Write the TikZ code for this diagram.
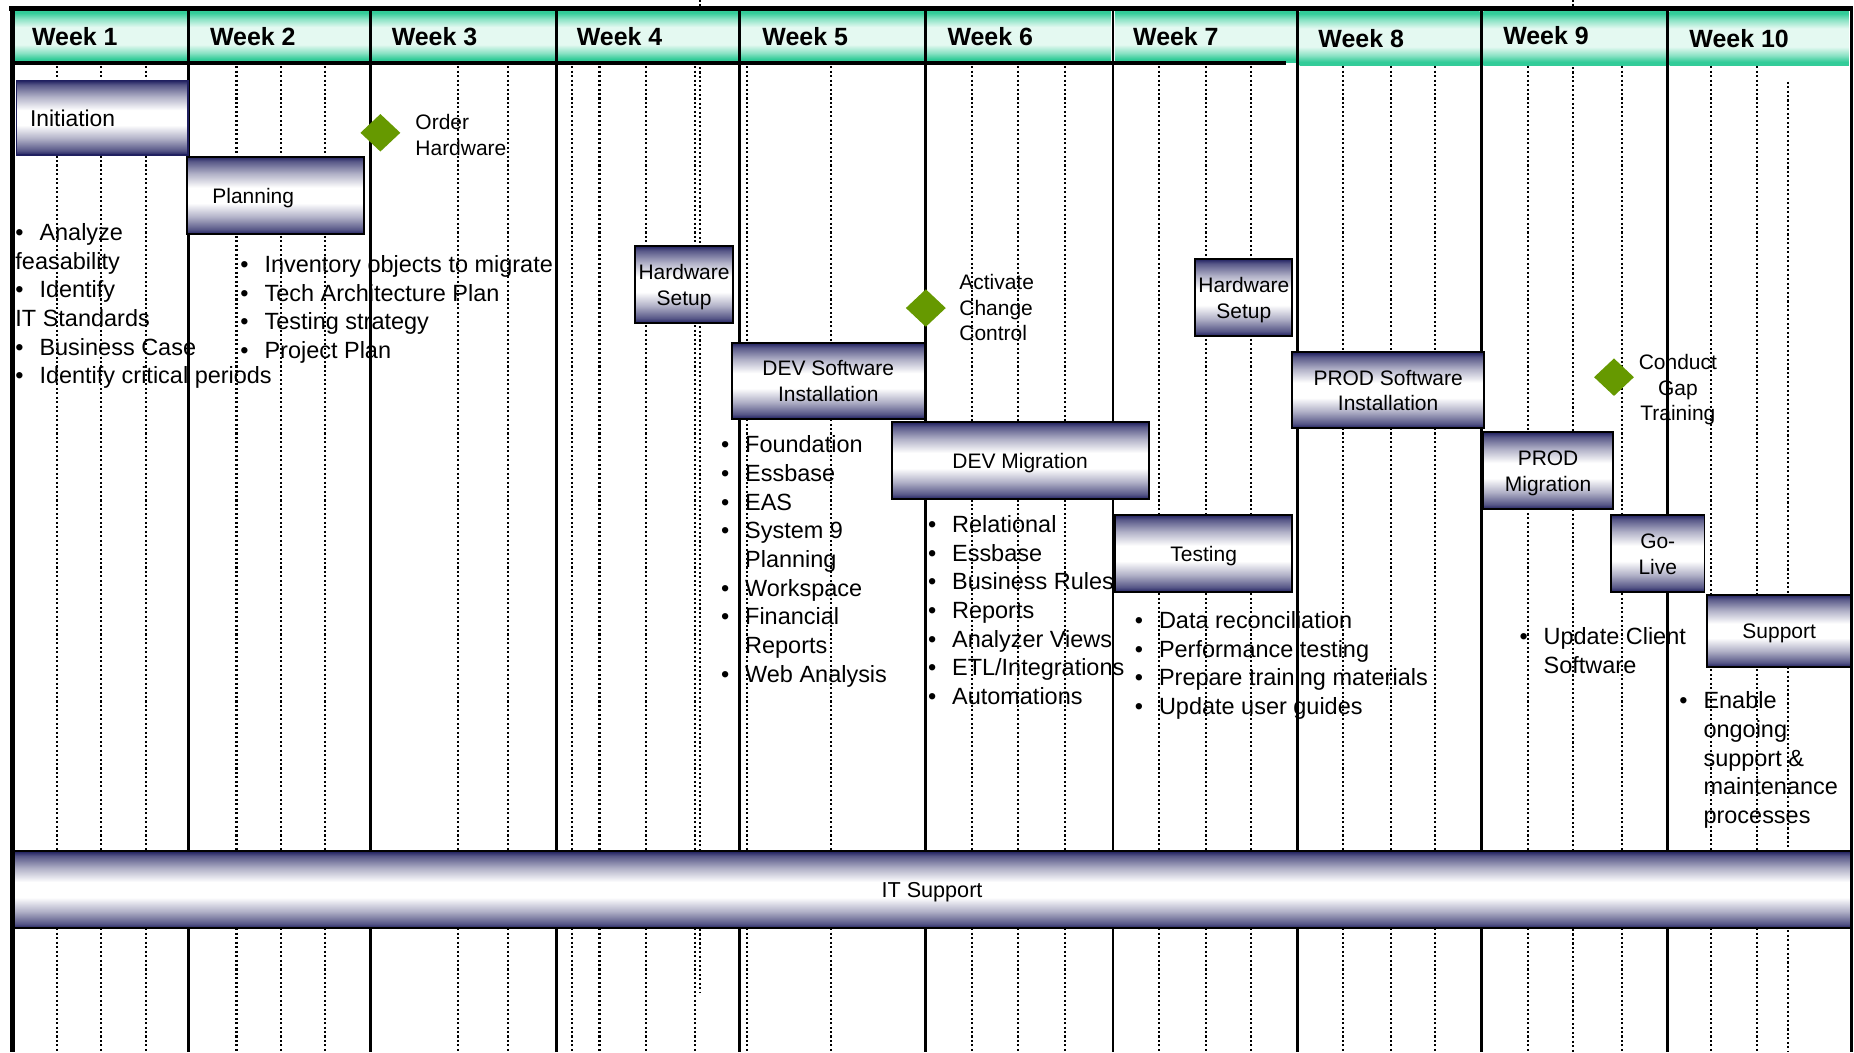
\documentclass[tikz,border=0pt]{standalone}
\usepackage{fontspec}
\setmainfont{Liberation Sans}
\usetikzlibrary{shapes.geometric}
\definecolor{barnavy}{RGB}{32,32,96}
\definecolor{hdrteal}{RGB}{51,204,153}
\definecolor{hdrlight}{RGB}{228,249,241}
\definecolor{msgreen}{RGB}{102,153,0}
\colorlet{navyA}{barnavy!75!white}
\colorlet{navyB}{barnavy!35!white}
\colorlet{tealmid}{hdrteal!50!hdrlight}
\pgfdeclareverticalshading{barshade}{100bp}{color(0bp)=(barnavy); color(25bp)=(barnavy); color(28bp)=(navyA); color(36bp)=(navyB); color(45bp)=(white); color(55bp)=(white); color(64bp)=(navyB); color(72bp)=(navyA); color(75bp)=(barnavy); color(100bp)=(barnavy)}
\pgfdeclareverticalshading{hdrshade}{100bp}{color(0bp)=(hdrteal); color(25bp)=(hdrteal); color(28bp)=(hdrteal); color(34bp)=(tealmid); color(42bp)=(hdrlight); color(59bp)=(hdrlight); color(67bp)=(tealmid); color(73bp)=(hdrteal); color(75bp)=(hdrteal); color(100bp)=(hdrteal)}
\newcommand{\gbul}{\makebox[11.6pt][l]{•}}
\newcommand{\gind}{\hspace*{11.6pt}}
\newcommand{\gtop}{\rule{0pt}{0.9em}}
\newcommand{\gh}{\rule{0pt}{1.0em}}
\newcommand{\gd}{\rule[-0.25em]{0pt}{0.25em}}
\newcommand{\glist}{\fontsize{11.3pt}{13.8pt}\selectfont}
\newcommand{\gbox}{\fontsize{10.1pt}{12.3pt}\selectfont}
\newcommand{\ghead}{\fontsize{12pt}{14pt}\selectfont\bfseries}
\tikzset{
  dotl/.style={line width=1pt, dash pattern=on 1pt off 1.15pt},
  divl/.style={line width=1.3pt},
  hdrcell/.style={shade, shading=hdrshade},
  weeklbl/.style={anchor=base west, inner sep=0pt, font=\ghead},
  gbar/.style={draw=black, line width=0.9pt, shade, shading=barshade, inner sep=0pt, align=center, font=\gbox},
  listtxt/.style={anchor=north west, inner sep=0pt, align=left, font=\glist},
  mslbl/.style={anchor=north west, inner sep=0pt, align=left, font=\gbox},
  milestone/.style={diamond, fill=msgreen, inner sep=0pt, minimum width=0.68cm, minimum height=0.64cm},
}
\begin{document}
\begin{tikzpicture}[x=0.02cm,y=-0.02cm]
\useasboundingbox (0,0) rectangle (1568,890);
\fill[white] (0,0) rectangle (1568,890);
% dotted day lines
\foreach \x in {48.5,85.6,123.7,200,238,275,387,430,484,507,546,587.5,632,703,822,861,901,980,1020,1058,1136,1176.5,1213.5,1292,1372,1447,1486}
  \draw[dotl] (\x,56) -- (\x,890);
\draw[dotl] (592,0) -- (592,839);
\draw[dotl] (1330,0) -- (1330,890);
\draw[dotl] (1512,69) -- (1512,890);
% header cells
\foreach \a/\b in {10/159.5,159.5/313.3,313.3/470.5,470.5/625.5,625.5/782.6,782.6/941.3,941.3/1097.5}
  \shade[hdrcell] (\a+1.6,9) rectangle (\b-1.6,52.5);
\foreach \a/\b in {1097.5/1253,1253/1410.4,1410.4/1565.3}
  \shade[hdrcell] (\a+1.6,9.5) rectangle (\b-1.6,55);
\node[weeklbl] (wk1) at (26.8,38.3) {Week 1};
\node[weeklbl] (wk2) at (177.3,38.3) {Week 2};
\node[weeklbl] (wk3) at (331,38.3) {Week 3};
\node[weeklbl] (wk4) at (487.5,38.3) {Week 4};
\node[weeklbl] (wk5) at (644.5,38.3) {Week 5};
\node[weeklbl] (wk6) at (801,38.3) {Week 6};
\node[weeklbl] (wk7) at (958,38.3) {Week 7};
\node[weeklbl] (wk8) at (1114.7,40.1) {Week 8};
\node[weeklbl] (wk9) at (1271,37.6) {Week 9};
\node[weeklbl] (wk10) at (1428.5,40.1) {Week 10};
% week dividers
\foreach \x in {159.5,313.3,470.5,625.5,782.6,941.3,1097.5,1253,1410.4}
  \draw[divl] (\x,7) -- (\x,890);
\draw[line width=1.7pt] (10,53.5) -- (1088,53.5);
% task notes
\node[listtxt] (l1) at (12.7,185.2) {\gtop\gbul Analyze\\feasability\\\gbul Identify\\IT Standards\\\gbul Business Case\\\gbul Identify critical periods};
\node[listtxt] (l2) at (203,212.2) {\gtop\gbul Inventory objects to migrate\\\gbul Tech Architecture Plan\\\gbul Testing strategy\\\gbul Project Plan};
\node[listtxt] (l5) at (609.5,364.7) {\gtop\gbul Foundation\\\gbul Essbase\\\gbul EAS\\\gbul System 9\\\gind Planning\\\gbul Workspace\\\gbul Financial\\\gind Reports\\\gbul Web Analysis};
\node[listtxt] (l6) at (784.5,432.2) {\gtop\gbul Relational\\\gbul Essbase\\\gbul Business Rules\\\gbul Reports\\\gbul Analyzer Views\\\gbul ETL/Integrations\\\gbul Automations};
\node[listtxt] (l7) at (959.5,513.4) {\gtop\gbul Data reconciliation\\\gbul Performance testing\\\gbul Prepare training materials\\\gbul Update user guides};
\node[listtxt] (l9) at (1284.8,526.8) {\gtop\gbul Update Client\\\gind Software};
\node[listtxt] (l10) at (1420,581.2) {\gtop\gbul Enable\\\gind ongoing\\\gind support \&\\\gind maintenance\\\gind processes};
% milestone labels
\node[mslbl] (m1t) at (351,93.6) {\gtop Order\\Hardware};
\node[mslbl] (m2t) at (811,228.8) {\gtop Activate\\Change\\Control};
\node[mslbl, anchor=north, align=center] (m3t) at (1419,296.3) {\gtop Conduct\\Gap\\Training};
% bars
\node[gbar, draw=barnavy, line width=0.6pt, minimum width=2.90cm, minimum height=1.26cm, font=\fontsize{11pt}{13pt}\selectfont] (init) at (86.5,99.5) {\makebox[2.444cm][l]{\gh\gd Initiation}};
\node[gbar, minimum width=2.99cm, minimum height=1.31cm] (plan) at (233.25,165.25) {\makebox[2.146cm][l]{\gh\gd Planning}};
\node[gbar, minimum width=1.66cm, minimum height=1.30cm] (hw1) at (578.5,240.5) {\gh Hardware\\Setup\gd};
\node[gbar, minimum width=3.26cm, minimum height=1.28cm] (devsw) at (700.5,322) {\gh DEV Software\\Installation\gd};
\node[gbar, minimum width=4.35cm, minimum height=1.30cm] (devmig) at (862.75,389.5) {\gh\gd DEV Migration};
\node[gbar, minimum width=1.64cm, minimum height=1.30cm] (hw2) at (1052,251.5) {\gh Hardware\\Setup\gd};
\node[gbar, minimum width=3.00cm, minimum height=1.30cm] (test) at (1018,468) {\gh\gd Testing};
\node[gbar, minimum width=3.24cm, minimum height=1.28cm] (prodsw) at (1174,330) {\gh PROD Software\\Installation\gd};
\node[gbar, minimum width=2.19cm, minimum height=1.30cm] (prodmig) at (1309.25,398) {\gh PROD\\Migration\gd};
\node[gbar, minimum width=1.58cm, minimum height=1.30cm] (golive) at (1402,468) {\gh Go-\\Live\gd};
\node[gbar, minimum width=2.43cm, minimum height=1.22cm] (support) at (1504.75,533.5) {\gh\gd Support};
\node[gbar, minimum width=31.09cm, minimum height=1.30cm, font=\fontsize{10.4pt}{12.3pt}\selectfont] (itsup) at (788.25,752.5) {\gh\gd IT Support};
% milestones
\node[milestone] (m1) at (321.7,112.3) {};
\node[milestone] (m2) at (783,260.5) {};
\node[milestone] (m3) at (1365,319) {};
% frame
\draw[line width=2.2pt] (8,7) -- (1567,7);
\draw[line width=2.4pt] (10.6,5.5) -- (10.6,890);
\draw[line width=1.5pt] (1565.5,7) -- (1565.5,890);
\end{tikzpicture}
\end{document}
